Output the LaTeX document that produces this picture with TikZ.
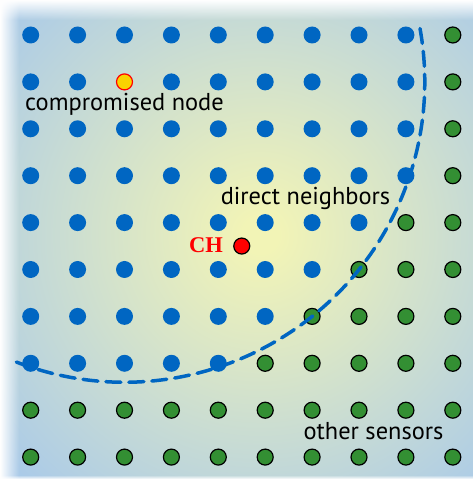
\documentclass[tikz,border=0pt]{standalone}
\usepackage{fontspec}
\newfontfamily\lblfont{PT Sans}
\newfontfamily\chfont{Liberation Serif}
\usetikzlibrary{fadings}
\definecolor{dotblue}{RGB}{0,102,194}
\definecolor{dotgreen}{RGB}{51,143,51}
\definecolor{bgy}{RGB}{242,244,182}
\definecolor{bgb}{RGB}{168,201,234}
\definecolor{cmpy}{RGB}{250,210,0}
\pgfdeclareradialshading{bgsh}{\pgfpointorigin}{color(0bp)=(bgy); color(1bp)=(bgy); color(20bp)=(bgb); color(50bp)=(bgb)}
\tikzfading[name=wfadeR, left color=transparent!0, right color=transparent!100]
\tikzfading[name=wfadeD, top color=transparent!0, bottom color=transparent!100]
\tikzfading[name=wfadeU, top color=transparent!100, bottom color=transparent!0]
\begin{document}
\begin{tikzpicture}[x=1pt,y=1pt,
  bn/.style={circle,fill=dotblue,inner sep=0pt,minimum size=17pt},
  gn/.style={circle,fill=dotgreen,draw=black,line width=1.2pt,inner sep=0pt,minimum size=16pt},
  cn/.style={circle,fill=cmpy,draw=red,line width=1.2pt,inner sep=0pt,minimum size=16pt},
  chn/.style={circle,fill=red,draw=black,line width=1.2pt,inner sep=0pt,minimum size=16pt},
  lbl/.style={font=\lblfont\fontsize{24.4}{28}\selectfont,inner sep=0pt,anchor=base},
  rangearc/.style={draw=dotblue,line width=3.5pt,dash pattern=on 15pt off 8pt,line cap=round}]
\useasboundingbox (0,0) rectangle (473,479);
\begin{scope}
  \clip (0,0) rectangle (473,479);
  \shade[shading=bgsh] (260,244) circle (440);
\end{scope}
\fill[white,path fading=wfadeR] (0,0) rectangle (19,479);
\fill[white,path fading=wfadeD] (0,459) rectangle (473,479);
\fill[white,path fading=wfadeU] (0,0) rectangle (473,4);
\foreach \i in {0,...,9}{
  \foreach \j in {0,...,9}{
    \pgfmathtruncatemacro\dd{(\i-2)*(\i-2)+(\j-1)*(\j-1)}
    \ifnum\dd>40 \def\st{gn}\else\def\st{bn}\fi
    \ifnum\dd=0 \def\st{cn}\fi
    \node[\st] (n\i\j) at ({30.7+46.9*\i},{444-46.9*\j}) {};
  }
}
\node[chn] (ch) at (241.75,232.95) {};
\draw[rangearc] (n21) ++(248.9:300.3) arc[start angle=248.9, end angle=371.75, radius=300.3];
\node[lbl] (lcomp) at (124.5,368) {compromised node};
\node[lbl] (lneigh) at (305.5,274) {direct neighbors};
\node[lbl] (lother) at (373.5,39) {other sensors};
\node[font=\chfont\bfseries\fontsize{22.5}{26}\selectfont,text=red,inner sep=0pt,anchor=base east] (lch) at (223,226) {CH};
\end{tikzpicture}
\end{document}
